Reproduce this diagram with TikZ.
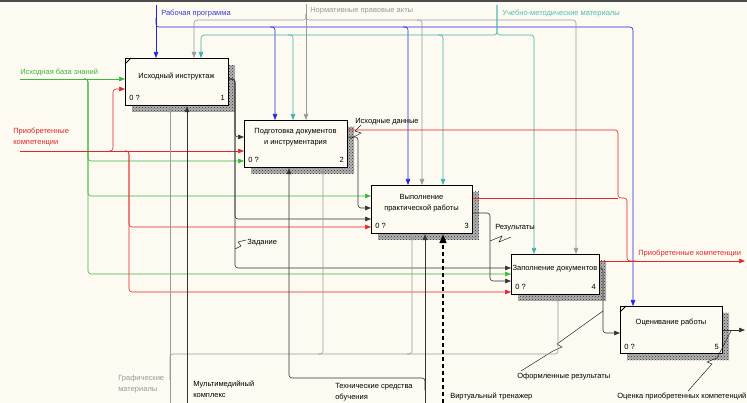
\documentclass[tikz,border=0pt]{standalone}
\usepackage{fontspec}
\setmainfont{Liberation Sans}
\usetikzlibrary{arrows.meta,patterns,calc}
\definecolor{bg}{HTML}{FDFAF1}
\definecolor{cblue}{HTML}{2424DC}
\definecolor{lblue}{HTML}{3A3AD6}
\definecolor{cgray}{HTML}{9A9A9A}
\definecolor{cteal}{HTML}{3DB3A8}
\definecolor{lteal}{HTML}{4CC0B0}
\definecolor{cgreen}{HTML}{3CB83C}
\definecolor{cred}{HTML}{E02828}
\begin{document}
\begin{tikzpicture}[x=1pt,y=-1pt,
  font=\fontsize{7.5}{11}\selectfont,
  line width=0.6pt,
  box/.style={draw,line width=1.2pt,fill=bg,inner sep=0pt,anchor=north west},
  boxtext/.style={inner sep=0pt,align=center},
  lbl/.style={inner sep=0pt,anchor=west,align=left},
  num/.style={inner sep=0pt},
  shadowbg/.style={fill=black!30},
  shadow/.style={pattern=crosshatch dots,pattern color=black!80},
  ar/.style={-{Triangle[length=6pt,width=4.5pt]}},
  rc/.style={rounded corners=3pt},
  cb/.style={draw=cblue},
  cg/.style={draw=cgray},
  ct/.style={draw=cteal},
  cgr/.style={draw=cgreen},
  cr/.style={draw=cred},
  ck/.style={draw=black!80},
  lead/.style={draw=black!85,line width=0.5pt}
]
\useasboundingbox[fill=bg] (0,0) rectangle (747,403);
\draw[line width=2pt,black!70] (0,1) -- (747,1);

% shadows
\foreach \r in {{(132,65) rectangle (235,112)},{(251,127) rectangle (354,174)},{(378,192) rectangle (479,240)},{(518,261) rectangle (606,301)},{(627,313) rectangle (729,360)}}{
  \fill[shadowbg] \r;
  \fill[shadow] \r;
}

% boxes
\node[box,minimum width=103pt,minimum height=47pt] (b1) at (125,58) {};
\node[box,minimum width=103pt,minimum height=47pt] (b2) at (244,120) {};
\node[box,minimum width=101pt,minimum height=48pt] (b3) at (371,185) {};
\node[box,minimum width=88pt,minimum height=40pt] (b4) at (511,254) {};
\node[box,minimum width=102pt,minimum height=47pt] (b5) at (620,306) {};

\draw[line width=0.8pt] ($(b1.north west)+(0,6)$) -- ++(6,-6);
\draw[line width=0.8pt] ($(b5.north west)+(0,6)$) -- ++(6,-6);

\node[boxtext] (b1t) at (176.5,76) {Исходный инструктаж};
\node[boxtext] (b2t) at (295.5,137.5) {Подготовка документов\\и инструментария};
\node[boxtext] (b3t) at (421.5,203.5) {Выполнение\\практической работы};
\node[boxtext] (b4t) at (555,269) {Заполнение документов};
\node[boxtext] (b5t) at (671,323) {Оценивание работы};

\node[num,anchor=base west] (b1z) at (129,101) {0 ?};
\node[num,anchor=base east] (b1n) at (225,101) {1};
\node[num,anchor=base west] (b2z) at (248,163) {0 ?};
\node[num,anchor=base east] (b2n) at (344,163) {2};
\node[num,anchor=base west] (b3z) at (375,229) {0 ?};
\node[num,anchor=base east] (b3n) at (469,229) {3};
\node[num,anchor=base west] (b4z) at (515,290) {0 ?};
\node[num,anchor=base east] (b4n) at (596,290) {4};
\node[num,anchor=base west] (b5z) at (624,349) {0 ?};
\node[num,anchor=base east] (b5n) at (719,349) {5};

% ---- controls (top)
\coordinate (srcRP) at (156,5);
\node[lbl,text=lblue] (lRP) at (161,14) {Рабочая программа};
\draw[cb,ar] (srcRP) -- (156,0 |- b1.north);
\draw[cb,ar,rc] (156,18) |- (633,27) -- (633,0 |- b5.north);
\draw[cb,ar,rc] (270,27) -| (275,0 |- b2.north);
\draw[cb,ar,rc] (403,27) -| (408,0 |- b3.north);

\coordinate (srcNP) at (306,4);
\node[lbl,text=cgray] (lNP) at (310,11) {Нормативные правовые акты};
\draw[cg,ar] (srcNP) -- (306,0 |- b2.north);
\draw[cg,ar,rc] (306,14) |- (194,20) -- (194,0 |- b1.north);
\draw[cg,ar,rc] (306,14) |- (576,20) -- (576,0 |- b4.north);
\draw[cg,ar,rc] (417,20) -| (422,0 |- b3.north);

\coordinate (srcUM) at (497,5);
\node[lbl,text=lteal] (lUM) at (502,14) {Учебно-методические материалы};
\draw[ct,ar,rc] (srcUM) |- (201,35) -- (201,0 |- b1.north);
\draw[ct,ar,rc] (srcUM) |- (534,35) -- (534,0 |- b4.north);
\draw[ct,ar,rc] (288,35) -| (293,0 |- b2.north);
\draw[ct,ar,rc] (438,35) -| (443,0 |- b3.north);

% ---- inputs (left)
\coordinate (srcIB) at (20,79);
\node[lbl,text=cgreen] (lIB) at (20,72) {Исходная база знаний};
\draw[cgr,ar] (srcIB) -- (b1.west |- 0,79);
\draw[cgr,ar,rc] (84,79) -| (88,120) |- (b2.west |- 0,161);
\draw[cgr,ar,rc] (84,79) -| (88,150) |- (b3.west |- 0,196);
\draw[cgr,ar,rc] (84,79) -| (88,200) |- (b4.west |- 0,274);

\coordinate (srcPK) at (20,151);
\node[lbl,text=cred] (lPK) at (13,137) {Приобретенные\\компетенции};
\draw[cr,ar] (srcPK) -- (b2.west |- 0,151);
\draw[cr,ar,rc] (109,151) -| (113,120) |- (b1.west |- 0,89);
\draw[cr,ar,rc] (125,151) -| (129,200) |- (b3.west |- 0,227);
\draw[cr,ar,rc] (125,151) -| (129,260) |- (b4.west |- 0,292);

% ---- box 1 output
\draw[ck,ar,rc] (b1.east |- 0,79) -| (235,110) |- (b2.west |- 0,137);
\draw[ck,ar,rc] (b1.east |- 0,79) -| (235,150) |- (b3.west |- 0,219);
\draw[ck,ar,rc] (b1.east |- 0,79) -| (235,200) |- (b4.west |- 0,268);
\node[lbl] (lZ) at (247,243) {Задание};
\draw[lead] (235,249) -- (241,246) -- (238,242) -- (246,240);

% ---- box 2 outputs
\draw[ck,ar,rc] (b2.east |- 0,137) -| (358,170) |- (b3.west |- 0,208);
\node[lbl] (lID) at (355,122) {Исходные данные};
\draw[lead] (350,139) -- (361,133) -- (355,131) -- (361,125);
\draw[cr,rc] (b2.east |- 0,130) -| (618,198) -| (627,230) |- (636,261);

% ---- box 3 outputs
\draw[cr] (b3.east |- 0,198) -- (618,198);
\draw[ck,ar,rc] (b3.east |- 0,213) -| (490,240) |- (b4.west |- 0,281);
\node[lbl] (lRes) at (495,228) {Результаты};
\draw[lead] (490,241) -- (502,236) -- (499,242) -- (511,237);

% ---- box 4 outputs
\coordinate (dstPK) at (745,261);
\draw[cr,ar] (b4.east |- 0,261) -- (dstPK);
\node[lbl,text=cred] (lPK2) at (638,254) {Приобретенные компетенции};
\draw[ck,ar,rc] (b4.east |- 0,268) -| (603,300) |- (b5.west |- 0,333);
\node[lbl] (lOR) at (517,377) {Оформленные результаты};
\draw[lead] (521,371) -- (553,351) -- (562,347) -- (557,344) -- (603,311);

% ---- box 5 output
\coordinate (dstOC) at (745,330);
\draw[ck,ar] (b5.east |- 0,330) -- (dstOC);
\node[lbl] (lOC) at (617,396) {Оценка приобретенных компетенций};
\draw[lead] (688,391) -- (712,364) -- (707,362) -- (717,358) -- (731,331);

% ---- mechanisms (bottom)
\coordinate (srcGM) at (170,403);
\node[lbl,text=cgray] (lGM) at (118,384) {Графические\\материалы};
\draw[cg,ar] (srcGM) -- (170,0 |- b1.south);
\draw[cg,ar,rc] (170,380) |- (558,354) -- (558,0 |- b4.south);
\draw[cg,ar,rc] (318,354) -| (323,0 |- b2.south);
\draw[cg,ar,rc] (407,354) -| (412,0 |- b3.south);

\coordinate (srcMM) at (187,403);
\node[lbl] (lMM) at (193,389) {Мультимедийный\\комплекс};
\draw[ck,ar] (srcMM) -- (187,0 |- b1.south);

\coordinate (srcTS) at (425,403);
\node[lbl] (lTS) at (335,392) {Технические средства\\обучения};
\draw[ck,ar] (srcTS) -- (425,0 |- b3.south);
\draw[ck,ar,rc] (425,390) |- (289,378) -- (289,0 |- b2.south);

\coordinate (srcVT) at (443,403);
\node[lbl] (lVT) at (450,396) {Виртуальный тренажер};
\draw[line width=1.6pt,dash pattern=on 4pt off 3pt,-{Triangle[length=9pt,width=7pt]}] (srcVT) -- (443,0 |- b3.south);
\end{tikzpicture}
\end{document}
